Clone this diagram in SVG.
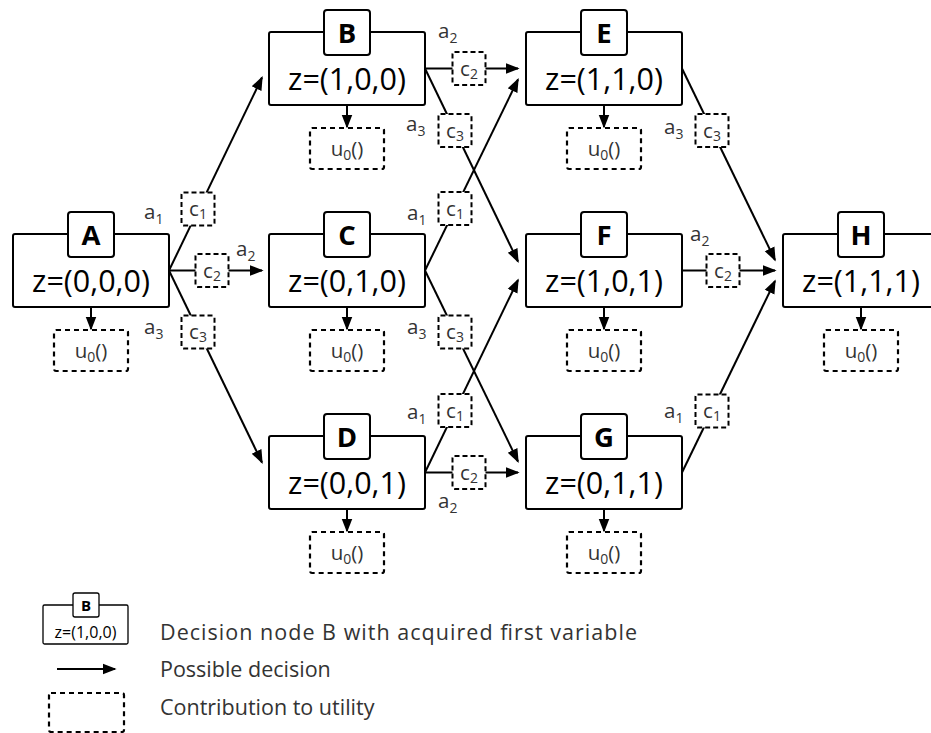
<svg xmlns="http://www.w3.org/2000/svg" width="931" height="733" viewBox="0 0 931 733">
<defs>
<marker id="ah" markerUnits="userSpaceOnUse" markerWidth="14" markerHeight="12" viewBox="0 0 13 10" refX="11.5" refY="5" orient="auto">
<path d="M0,0 L13,5 L0,10 z" fill="#000"/>
</marker>
<style>
.box{fill:#fff;stroke:#000;stroke-width:2}
.lab{fill:#fff;stroke:#000;stroke-width:2}
.dash{fill:#fff;stroke:#000;stroke-width:2;stroke-dasharray:5,3}
.udash{fill:#fff;stroke:#000;stroke-width:2.2;stroke-dasharray:5,4}
.ln{stroke:#000;stroke-width:2;fill:none}
.arr{stroke:#000;stroke-width:2;fill:none;marker-end:url(#ah)}
.z{font-family:"Open Sans","Noto Sans",sans-serif;font-size:30.5px;text-anchor:middle;fill:#000}
.L{font-family:"Open Sans","Noto Sans",sans-serif;font-size:27.5px;font-weight:bold;text-anchor:middle;fill:#000}
.s{font-family:"Open Sans","Noto Sans",sans-serif;font-size:20.5px;fill:#333}
.sm{text-anchor:middle}
.sub{font-size:14px}
.leg{font-family:"Open Sans","Noto Sans",sans-serif;font-size:21.5px;fill:#333}
</style>
</defs>

<g id="connectors">
<path class="arr" d="M169,270.5 L262,77.5"/>
<path class="arr" d="M169,270.5 L262,270.5"/>
<path class="arr" d="M169,270.5 L262,462.5"/>
<path class="arr" d="M425,68.5 L518,68.5"/>
<path class="arr" d="M425,68.5 L518,261.5"/>
<path class="arr" d="M425,270.5 L518,79.5"/>
<path class="arr" d="M425,270.5 L518,461.5"/>
<path class="arr" d="M425,472.5 L518,280"/>
<path class="arr" d="M425,472.5 L518,472.5"/>
<path class="arr" d="M682,68.5 L775,260"/>
<path class="arr" d="M682,270.5 L775,270.5"/>
<path class="arr" d="M682,472.5 L775,281"/>
<path class="arr" d="M91,307 L91,329"/>
<path class="arr" d="M347,105 L347,127"/>
<path class="arr" d="M347,307 L347,329"/>
<path class="arr" d="M347,509 L347,531"/>
<path class="arr" d="M604,105 L604,127"/>
<path class="arr" d="M604,307 L604,329"/>
<path class="arr" d="M604,509 L604,531"/>
<path class="arr" d="M861,307 L861,329"/>
<g id="costs">
<rect class="dash" x="181.5" y="192.5" width="33" height="33" rx="2"/>
<text class="s sm" x="198" y="216">c<tspan class="sub" dy="3">1</tspan></text>
<rect class="dash" x="195.5" y="254" width="33" height="33" rx="2"/>
<text class="s sm" x="212" y="277.5">c<tspan class="sub" dy="3">2</tspan></text>
<rect class="dash" x="181.5" y="315.5" width="33" height="33" rx="2"/>
<text class="s sm" x="198" y="339">c<tspan class="sub" dy="3">3</tspan></text>
<rect class="dash" x="452.5" y="52" width="33" height="33" rx="2"/>
<text class="s sm" x="469" y="75.5">c<tspan class="sub" dy="3">2</tspan></text>
<rect class="dash" x="438.5" y="114" width="33" height="33" rx="2"/>
<text class="s sm" x="455" y="137.5">c<tspan class="sub" dy="3">3</tspan></text>
<rect class="dash" x="438.5" y="192" width="33" height="33" rx="2"/>
<text class="s sm" x="455" y="215.5">c<tspan class="sub" dy="3">1</tspan></text>
<rect class="dash" x="438.5" y="315.5" width="33" height="33" rx="2"/>
<text class="s sm" x="455" y="339">c<tspan class="sub" dy="3">3</tspan></text>
<rect class="dash" x="438.5" y="394" width="33" height="33" rx="2"/>
<text class="s sm" x="455" y="417.5">c<tspan class="sub" dy="3">1</tspan></text>
<rect class="dash" x="452.5" y="456" width="33" height="33" rx="2"/>
<text class="s sm" x="469" y="479.5">c<tspan class="sub" dy="3">2</tspan></text>
<rect class="dash" x="695.5" y="114" width="33" height="33" rx="2"/>
<text class="s sm" x="712" y="137.5">c<tspan class="sub" dy="3">3</tspan></text>
<rect class="dash" x="706.5" y="254" width="33" height="33" rx="2"/>
<text class="s sm" x="723" y="277.5">c<tspan class="sub" dy="3">2</tspan></text>
<rect class="dash" x="695.5" y="394.5" width="33" height="33" rx="2"/>
<text class="s sm" x="712" y="418">c<tspan class="sub" dy="3">1</tspan></text>
</g>
<g id="actions">
<text class="s" x="144" y="219">a<tspan class="sub" dy="5">1</tspan></text>
<text class="s" x="236" y="256">a<tspan class="sub" dy="5">2</tspan></text>
<text class="s" x="144" y="334">a<tspan class="sub" dy="5">3</tspan></text>
<text class="s" x="438" y="38">a<tspan class="sub" dy="5">2</tspan></text>
<text class="s" x="406" y="131">a<tspan class="sub" dy="5">3</tspan></text>
<text class="s" x="407" y="220">a<tspan class="sub" dy="5">1</tspan></text>
<text class="s" x="407" y="334">a<tspan class="sub" dy="5">3</tspan></text>
<text class="s" x="407" y="419">a<tspan class="sub" dy="5">1</tspan></text>
<text class="s" x="438" y="508">a<tspan class="sub" dy="5">2</tspan></text>
<text class="s" x="664" y="134">a<tspan class="sub" dy="5">3</tspan></text>
<text class="s" x="690" y="241">a<tspan class="sub" dy="5">2</tspan></text>
<text class="s" x="664" y="418">a<tspan class="sub" dy="5">1</tspan></text>
</g>
</g>

<g id="A">
<rect class="box" x="13" y="234" width="156" height="73" rx="2"/>
<rect class="lab" x="68" y="212" width="46" height="45" rx="3"/>
<text class="L" x="91" y="244.5">A</text>
<text class="z" x="91" y="292">z=(0,0,0)</text>
<rect class="udash" x="54" y="330" width="74" height="41" rx="2"/>
<text class="s sm" x="91" y="358">u<tspan class="sub" dy="4">0</tspan><tspan dy="-4">()</tspan></text>
</g>
<g id="B">
<rect class="box" x="269" y="32" width="156" height="73" rx="2"/>
<rect class="lab" x="324" y="10" width="46" height="45" rx="3"/>
<text class="L" x="347" y="42.5">B</text>
<text class="z" x="347" y="90">z=(1,0,0)</text>
<rect class="udash" x="310" y="128" width="74" height="41" rx="2"/>
<text class="s sm" x="347" y="156">u<tspan class="sub" dy="4">0</tspan><tspan dy="-4">()</tspan></text>
</g>
<g id="C">
<rect class="box" x="269" y="234" width="156" height="73" rx="2"/>
<rect class="lab" x="324" y="212" width="46" height="45" rx="3"/>
<text class="L" x="347" y="244.5">C</text>
<text class="z" x="347" y="292">z=(0,1,0)</text>
<rect class="udash" x="310" y="330" width="74" height="41" rx="2"/>
<text class="s sm" x="347" y="358">u<tspan class="sub" dy="4">0</tspan><tspan dy="-4">()</tspan></text>
</g>
<g id="D">
<rect class="box" x="269" y="436" width="156" height="73" rx="2"/>
<rect class="lab" x="324" y="414" width="46" height="45" rx="3"/>
<text class="L" x="347" y="446.5">D</text>
<text class="z" x="347" y="494">z=(0,0,1)</text>
<rect class="udash" x="310" y="532" width="74" height="41" rx="2"/>
<text class="s sm" x="347" y="560">u<tspan class="sub" dy="4">0</tspan><tspan dy="-4">()</tspan></text>
</g>
<g id="E">
<rect class="box" x="526" y="32" width="156" height="73" rx="2"/>
<rect class="lab" x="581" y="10" width="46" height="45" rx="3"/>
<text class="L" x="604" y="42.5">E</text>
<text class="z" x="604" y="90">z=(1,1,0)</text>
<rect class="udash" x="567" y="128" width="74" height="41" rx="2"/>
<text class="s sm" x="604" y="156">u<tspan class="sub" dy="4">0</tspan><tspan dy="-4">()</tspan></text>
</g>
<g id="F">
<rect class="box" x="526" y="234" width="156" height="73" rx="2"/>
<rect class="lab" x="581" y="212" width="46" height="45" rx="3"/>
<text class="L" x="604" y="244.5">F</text>
<text class="z" x="604" y="292">z=(1,0,1)</text>
<rect class="udash" x="567" y="330" width="74" height="41" rx="2"/>
<text class="s sm" x="604" y="358">u<tspan class="sub" dy="4">0</tspan><tspan dy="-4">()</tspan></text>
</g>
<g id="G">
<rect class="box" x="526" y="436" width="156" height="73" rx="2"/>
<rect class="lab" x="581" y="414" width="46" height="45" rx="3"/>
<text class="L" x="604" y="446.5">G</text>
<text class="z" x="604" y="494">z=(0,1,1)</text>
<rect class="udash" x="567" y="532" width="74" height="41" rx="2"/>
<text class="s sm" x="604" y="560">u<tspan class="sub" dy="4">0</tspan><tspan dy="-4">()</tspan></text>
</g>
<g id="H">
<rect class="box" x="783" y="234" width="156" height="73" rx="2"/>
<rect class="lab" x="838" y="212" width="46" height="45" rx="3"/>
<text class="L" x="861" y="244.5">H</text>
<text class="z" x="861" y="292">z=(1,1,1)</text>
<rect class="udash" x="824" y="330" width="74" height="41" rx="2"/>
<text class="s sm" x="861" y="358">u<tspan class="sub" dy="4">0</tspan><tspan dy="-4">()</tspan></text>
</g>

<g id="legend">
<rect x="43" y="605" width="85" height="39" rx="1.5" fill="#fff" stroke="#000" stroke-width="1.3"/>
<rect x="73" y="593" width="26" height="24" rx="2" fill="#fff" stroke="#000" stroke-width="1.3"/>
<text x="86" y="611" font-family="Open Sans, Noto Sans, sans-serif" font-size="15" font-weight="bold" text-anchor="middle">B</text>
<text x="85.5" y="638" font-family="Open Sans, Noto Sans, sans-serif" font-size="16" text-anchor="middle" fill="#000">z=(1,0,0)</text>
<path class="arr" d="M57,669 L115,669"/>
<rect class="udash" x="49" y="693" width="75" height="39" rx="2" fill="none"/>
<text class="leg" x="160" y="640" textLength="477" lengthAdjust="spacing">Decision node B with acquired first variable</text>
<text class="leg" x="160" y="677">Possible decision</text>
<text class="leg" x="160" y="715">Contribution to utility</text>
</g>
</svg>
